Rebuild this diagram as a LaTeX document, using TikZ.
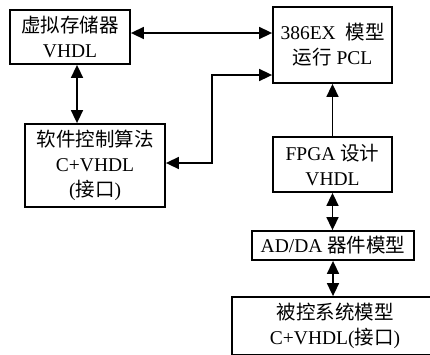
\documentclass[tikz,border=0pt]{standalone}
\usepackage{fontspec}
\setmainfont{Liberation Serif}
\newfontfamily\cjk{Noto Sans CJK SC}[Scale=1.0]
\usetikzlibrary{arrows.meta}
\tikzset{
  blk/.style={draw, line width=1.8pt, rectangle, inner sep=0pt, align=center,
    font=\fontsize{19.5}{25}\selectfont},
  conn/.style={line width=1.6pt, {Triangle[length=13pt,width=12pt]}-{Triangle[length=13pt,width=12pt]}},
  oneway/.style={line width=1.6pt, -{Triangle[length=13pt,width=12pt]}}
}
\begin{document}
\begin{tikzpicture}[x=1pt,y=-1pt]
\useasboundingbox (0,0) rectangle (430,354);
\clip (0,0) rectangle (430,354);
\node[blk, minimum width=120pt, minimum height=54pt] (b1) at (70,37) {{\cjk 虚拟存储器}\\VHDL};
\node[blk, minimum width=119pt, minimum height=76pt] (b2) at (332.5,45) {386EX\ \ {\cjk 模型}\\{\cjk 运行} PCL};
\node[blk, minimum width=140pt, minimum height=83pt] (b3) at (95,165.5) {{\cjk 软件控制算法}\\C+VHDL\\({\cjk 接口})};
\node[blk, minimum width=119pt, minimum height=55pt] (b4) at (332.5,164.5) {FPGA {\cjk 设计}\\VHDL};
\node[blk, minimum width=162pt, minimum height=29pt] (b5) at (333,245.5) {AD/DA {\cjk 器件模型}};
\node[blk, minimum width=206pt, minimum height=58pt] (b6) at (335,326) {{\cjk 被控系统模型}\\C+VHDL({\cjk 接口})};
% connectors
\draw[conn] ([yshift=4pt]b1.east) -- ([yshift=4pt]b1.east -| b2.west);
\draw[conn] ([xshift=7pt]b1.south) -- ([xshift=7pt]b1.south |- b3.north);
\coordinate (b3out) at ([yshift=2.5pt]b3.east);
\coordinate (b2in) at ([yshift=-30pt]b2.west);
\coordinate (mid) at (212,0);
\draw[conn] (b3out) -| (mid |- b2in) -- (b2in);
\draw[oneway] (b4.north) -- (b2.south);
\draw[conn] (b4.south) -- (b4.south |- b5.north);
\draw[conn] (b5.south) -- (b5.south |- b6.north);
\end{tikzpicture}
\end{document}
